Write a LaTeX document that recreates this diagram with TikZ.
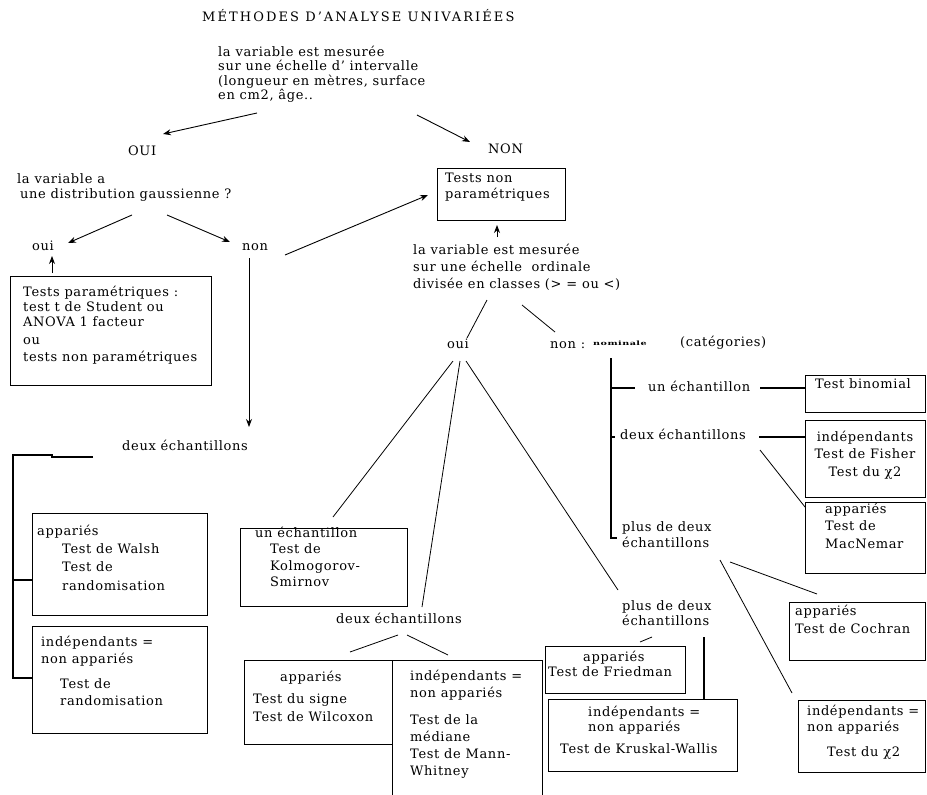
\documentclass[tikz,border=0pt]{standalone}
\usepackage{graphicx}
\usepackage{fontspec}
\setmainfont{DejaVu Serif}[LetterSpace=5]
\usetikzlibrary{arrows.meta}
\newcommand\topstrut{\rule{0pt}{11pt}}

\begin{document}
\begin{tikzpicture}[x=1pt,y=-1pt,
    txt/.style={anchor=north west,inner sep=0pt,align=left,font=\fontsize{13}{16}\selectfont},
    lsp/.style={font=\fontsize{13}{#1}\selectfont},
    box/.style={draw,line width=1.3pt,anchor=north west,inner sep=0pt},
    arr/.style={line width=0.9pt,-{Stealth[length=8pt,width=6pt]}},
    ln/.style={line width=0.8pt}]
\useasboundingbox (0,0) rectangle (927,795);

\node[txt,font=\fontsize{13}{16}\selectfont\addfontfeature{LetterSpace=16}] (title) at (202,9) {\topstrut MÉTHODES D'ANALYSE UNIVARIÉES};
\node[txt,lsp=14.5] (q1) at (218,45) {\topstrut la variable est mesurée\\ sur une échelle d' intervalle\\ (longueur en mètres, surface\\ en cm2, âge..};
\node[txt] (ouiA) at (128,144) {\topstrut OUI};
\node[txt] (nonA) at (488,142) {\topstrut NON};
\node[txt,lsp=15] (gauss) at (17,172) {\topstrut la variable a\\ \hspace*{3pt}une distribution gaussienne ?};
\node[txt] (ouiB) at (32,239) {\topstrut oui};
\node[txt] (nonB) at (242,239) {\topstrut non};

\node[box,minimum width=201pt,minimum height=109pt] (pbox) at (10,276) {};
\node[txt,lsp=15] (ptxt) at (23,285) {\topstrut Tests paramétriques :\\ test t de Student ou\\ ANOVA 1 facteur\\[3pt] ou\\[2pt] tests non paramétriques};

\node[txt] (deuxA) at (122,439) {\topstrut deux échantillons};
\node[box,minimum width=175pt,minimum height=102pt] (appA) at (32,513) {};
\node[txt,lsp=18.3] (appAtxt) at (37,524) {\topstrut appariés\\ \hspace*{25pt}Test de Walsh\\ \hspace*{25pt}Test de\\ \hspace*{25pt}randomisation};
\node[box,minimum width=175pt,minimum height=107pt] (indA) at (32,626) {};
\node[txt,lsp=17] (indAtxt) at (41,635) {\topstrut indépendants =\\ non appariés\\[8pt] \hspace*{19pt}Test de\\ \hspace*{19pt}randomisation};

\node[box,minimum width=128pt,minimum height=52pt] (tnp) at (437,168) {};
\node[txt] (tnptxt) at (445,171) {\topstrut Tests non\\ paramétriques};
\node[txt,lsp=17] (q2) at (413,243) {\topstrut la variable est mesurée\\ sur une échelle \ ordinale\\ divisée en classes (> = ou <)};
\node[txt] (ouiC) at (447,337) {\topstrut oui};
\node[txt] (nonC) at (550,337) {\topstrut non :};
\node[anchor=west,inner sep=0pt,font=\fontsize{6}{7}\selectfont\bfseries] (nomin) at (593,343) {\scalebox{1.6}[1]{nominale}};
\node[txt] (categ) at (680,335) {\topstrut (catégories)};

\node[txt] (unE) at (648,380) {\topstrut un échantillon};
\node[box,minimum width=120pt,minimum height=37pt] (binbox) at (805,375) {};
\node[txt] (bintxt) at (815,377) {\topstrut Test binomial};
\node[txt] (deuxB) at (620,428) {\topstrut deux échantillons};
\node[box,minimum width=120pt,minimum height=77pt] (fishbox) at (805,420) {};
\node[txt,lsp=17.5,anchor=north,align=center] (fishtxt) at (865,430) {\topstrut indépendants\\ Test de Fisher\\ Test du χ2};
\node[box,minimum width=120pt,minimum height=71pt] (macbox) at (805,502) {};
\node[txt,lsp=17.5] (mactxt) at (825,502) {\topstrut appariés\\ Test de\\ MacNemar};
\node[txt] (plusB) at (622,520) {\topstrut plus de deux\\ échantillons};
\node[box,minimum width=136pt,minimum height=58pt] (cochbox) at (789,602) {};
\node[txt,lsp=18] (cochtxt) at (795,604) {\topstrut appariés\\ Test de Cochran};
\node[box,minimum width=127pt,minimum height=72pt] (chibox) at (798,700) {};
\node[txt] (chitxt) at (807,704) {\topstrut indépendants =\\ non appariés\\[9pt] \hspace*{20pt}Test du χ2};

\node[box,minimum width=167pt,minimum height=78pt] (unEbox) at (240,528) {};
\node[txt,lsp=16.5] (unEtxt) at (255,526) {\topstrut un échantillon\\ \hspace*{15pt}Test de\\ \hspace*{15pt}Kolmogorov-\\ \hspace*{15pt}Smirnov};
\node[txt] (deuxC) at (336,612) {\topstrut deux échantillons};
\node[box,minimum width=148pt,minimum height=84pt] (appC) at (244,660) {};
\node[txt,lsp=18] (appCtxt) at (253,670) {\topstrut\hspace*{27pt}appariés\\[4pt] Test du signe\\ Test de Wilcoxon};
\node[box,minimum width=150pt,minimum height=140pt] (indC) at (392,660) {};
\node[txt,lsp=16.8] (indCtxt) at (410,669) {\topstrut indépendants =\\ non appariés\\[11pt] Test de la\\ médiane\\ Test de Mann-\\ Whitney};
\node[txt,lsp=15] (plusC) at (622,599) {\topstrut plus de deux\\ échantillons};
\node[box,minimum width=140pt,minimum height=47pt] (friedbox) at (545,646) {};
\node[txt,lsp=15] (friedtxt) at (548,650) {\topstrut\hspace*{35pt}appariés\\ Test de Friedman};
\node[box,minimum width=189pt,minimum height=72pt] (kruskbox) at (548,699) {};
\node[txt,lsp=15] (krusktxt) at (560,705) {\topstrut\hspace*{28pt}indépendants =\\ \hspace*{28pt}non appariés\\[7pt] Test de Kruskal-Wallis};

\draw[arr] ([shift={(39,68)}]q1.north west) -- ([shift={(35,-10)}]ouiA.north west);
\draw[arr] ([shift={(199,70)}]q1.north west) -- ([shift={(-18,0)}]nonA.north west);
\draw[arr] ([shift={(115,43)}]gauss.north west) -- ([shift={(36,4)}]ouiB.north west);
\draw[arr] ([shift={(150,43)}]gauss.north west) -- ([shift={(-12,3)}]nonB.north west);
\draw[arr] ([shift={(42,-3)}]pbox.north west) -- ([shift={(20,17)}]ouiB.north west);
\draw[arr] ([shift={(7,19)}]nonB.north west) -- ([shift={(127,-12)}]deuxA.north west);
\draw[arr] ([shift={(43,16)}]nonB.north west) -- ([shift={(-9,27)}]tnp.north west);
\draw[arr] ([shift={(84,-6)}]q2.north west) -- ([shift={(60,57)}]tnp.north west);
\draw[ln] ([shift={(74,57)}]q2.north west) -- ([shift={(20,1)}]ouiC.north west);
\draw[ln] ([shift={(109,62)}]q2.north west) -- ([shift={(5,-5)}]nonC.north west);

\draw[line width=1.3pt] ([shift={(61,21)}]nonC.north west) |- ([shift={(-5,18)}]plusB.north west);
\draw[line width=1.3pt] ([shift={(-37,8)}]unE.north west) -- ([shift={(-13,8)}]unE.north west);
\draw[line width=1.3pt] ([shift={(-9,9)}]deuxB.north west) -- ([shift={(-5,9)}]deuxB.north west);
\draw[line width=1.3pt] ([shift={(112,8)}]unE.north west) -- ([shift={(0,13)}]binbox.north west);
\draw[line width=1.3pt] ([shift={(139,9)}]deuxB.north west) -- ([shift={(0,17)}]fishbox.north west);
\draw[ln] ([shift={(140,22)}]deuxB.north west) -- ([shift={(0,5)}]macbox.north west);
\draw[ln] ([shift={(108,42)}]plusB.north west) -- ([shift={(28,-8)}]cochbox.north west);
\draw[ln] ([shift={(98,40)}]plusB.north west) -- ([shift={(-6,-7)}]chibox.north west);

\draw[ln] ([shift={(6,24)}]ouiC.north west) -- ([shift={(93,-11)}]unEbox.north west);
\draw[ln] ([shift={(13,24)}]ouiC.north west) -- ([shift={(86,-5)}]deuxC.north west);
\draw[ln] ([shift={(19,24)}]ouiC.north west) -- ([shift={(-4,-9)}]plusC.north west);
\draw[ln] ([shift={(62,23)}]deuxC.north west) -- ([shift={(106,-8)}]appC.north west);
\draw[ln] ([shift={(71,23)}]deuxC.north west) -- ([shift={(56,-5)}]indC.north west);
\draw[ln] ([shift={(30,38)}]plusC.north west) -- ([shift={(95,-4)}]friedbox.north west);
\draw[line width=1.3pt] ([shift={(82,38)}]plusC.north west) -- ([shift={(156,0)}]kruskbox.north west);

\draw[line width=1.3pt] ([shift={(-29,18)}]deuxA.north west) -- ++(-41,0) -- ++(0,-2) -- ++(-39,0) |- ([shift={(0,52)}]indA.north west);
\draw[line width=1.3pt] ([shift={(-19,67)}]appA.north west) -- ([shift={(0,67)}]appA.north west);
\end{tikzpicture}
\end{document}
